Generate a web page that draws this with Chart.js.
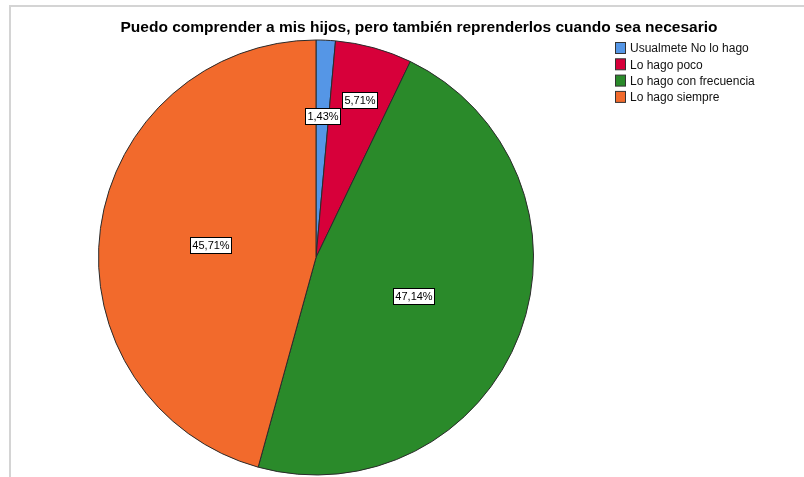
<!DOCTYPE html>
<html>
<head>
<meta charset="utf-8">
<script src="https://cdn.jsdelivr.net/npm/chart.js@4/dist/chart.umd.min.js"></script>
<style>
html,body{margin:0;padding:0;background:#fff;}
#wrap{width:804px;height:477px;position:relative;}
</style>
</head>
<body>
<div id="wrap"><canvas id="c" width="804" height="477"></canvas></div>
<script>
const title = "Puedo comprender a mis hijos, pero también reprenderlos cuando sea necesario";
const categories = ["Usualmete No lo hago", "Lo hago poco", "Lo hago con frecuencia", "Lo hago siempre"];
const percentages = [1.43, 5.71, 47.14, 45.71];
const colors = ["#5596e6", "#d7003a", "#2a8a2a", "#f26a2c"];
const labelRadiusFraction = [0.66, 0.76, 0.48, 0.49];

const FONT = "'Liberation Sans', Arial, sans-serif";

const decor = {
  id: 'decor',
  beforeDraw(chart) {
    const ctx = chart.ctx;
    ctx.save();
    ctx.fillStyle = '#fff';
    ctx.fillRect(0, 0, chart.width, chart.height);
    ctx.fillStyle = '#d4d4d4';
    ctx.fillRect(9, 5, chart.width - 9, 2);
    ctx.fillRect(9, 5, 2, chart.height - 5);
    ctx.restore();
  },
  afterDraw(chart) {
    const ctx = chart.ctx;
    ctx.save();
    // title
    ctx.fillStyle = '#000';
    ctx.font = "bold 15.5px " + FONT;
    ctx.textAlign = 'center';
    ctx.textBaseline = 'middle';
    ctx.fillText(title, 419, 27.5);
    // legend
    ctx.font = "12px " + FONT;
    ctx.textAlign = 'left';
    categories.forEach((c, i) => {
      const y = 48 + i * 16.3;
      ctx.fillStyle = colors[i];
      ctx.fillRect(615.5, y - 5.5, 10, 11);
      ctx.strokeStyle = '#333';
      ctx.lineWidth = 1;
      ctx.strokeRect(615.5, y - 5.5, 10, 11);
      ctx.fillStyle = '#111';
      ctx.fillText(c, 630, y + 1);
    });
    // value labels
    const meta = chart.getDatasetMeta(0);
    ctx.font = "11px " + FONT;
    ctx.textAlign = 'center';
    meta.data.forEach((arc, i) => {
      const p = arc.getProps(['x', 'y', 'startAngle', 'endAngle', 'outerRadius'], true);
      const mid = (p.startAngle + p.endAngle) / 2;
      const r = p.outerRadius * labelRadiusFraction[i];
      const x = p.x + Math.cos(mid) * r;
      const y = p.y + Math.sin(mid) * r + 2;
      const txt = percentages[i].toFixed(2).replace('.', ',') + '%';
      const w = Math.round(ctx.measureText(txt).width) + 4;
      const h = 16;
      const bx = Math.round(x - w / 2) + 0.5, by = Math.round(y - h / 2) + 0.5;
      ctx.fillStyle = '#fff';
      ctx.fillRect(bx, by, w, h);
      ctx.strokeStyle = '#000';
      ctx.lineWidth = 1;
      ctx.strokeRect(bx, by, w, h);
      ctx.fillStyle = '#000';
      ctx.fillText(txt, bx + w / 2, by + h / 2 + 0.5);
    });
    ctx.restore();
  }
};

new Chart(document.getElementById('c'), {
  type: 'pie',
  data: {
    labels: categories,
    datasets: [{
      data: percentages,
      backgroundColor: colors,
      borderColor: '#2b2b2b',
      borderWidth: 1
    }]
  },
  options: {
    responsive: false,
    animation: false,
    layout: { padding: { top: 39, bottom: 1, left: 98, right: 270 } },
    plugins: {
      legend: { display: false },
      title: { display: false },
      tooltip: { enabled: false }
    }
  },
  plugins: [decor]
});
</script>
</body>
</html>
